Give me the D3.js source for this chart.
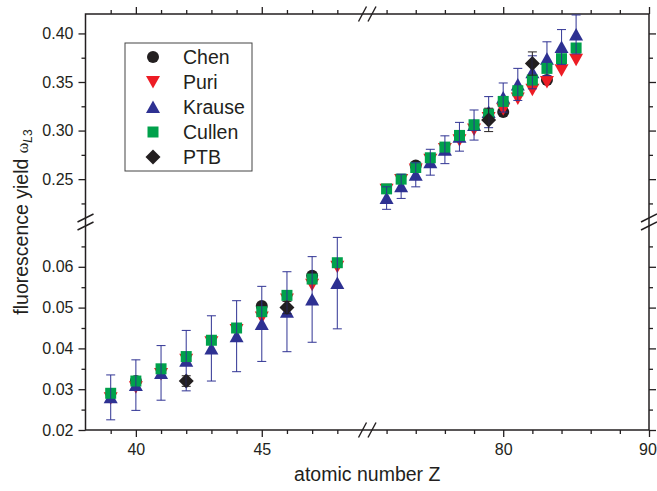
<!DOCTYPE html>
<html>
<head>
<meta charset="utf-8">
<script src="https://cdn.jsdelivr.net/npm/d3@7"></script>
<style>
  html, body { margin: 0; padding: 0; background: #fff; }
  svg { display: block; font-family: "Liberation Sans", Arial, sans-serif; }
</style>
</head>
<body>
<svg id="chart" width="657" height="491"></svg>
<script>
// atomic numbers of the two plotted ranges
const zLow  = [39, 40, 41, 42, 43, 44, 45, 46, 47, 48];
const zHigh = [72, 73, 74, 75, 76, 77, 78, 79, 80, 81, 82, 83, 84, 85];

// L3 fluorescence yields per data set
const puriY   = [0.0278, 0.0305, 0.0337, 0.0372, 0.0415, 0.0445, 0.0476, 0.052, 0.0556, 0.060,
                 0.239, 0.249, 0.260, 0.270, 0.281, 0.290, 0.301, 0.313, 0.322, 0.333, 0.342, 0.350, 0.362, 0.373];
const krauseY = [0.028, 0.031, 0.034, 0.037, 0.040, 0.043, 0.046, 0.049, 0.052, 0.056,
                 0.2305, 0.2426, 0.2545, 0.2674, 0.2803, 0.2936, 0.3057, 0.319, 0.334, 0.3475, 0.360, 0.374, 0.386, 0.399];
const krauseErr = [0.0055, 0.0062, 0.0067, 0.0074, 0.0080, 0.0087, 0.0092, 0.0098, 0.0105, 0.0112,
                   0.0116, 0.0125, 0.0124, 0.0133, 0.0143, 0.0148, 0.0155, 0.016, 0.015, 0.0165, 0.017, 0.0174, 0.018, 0.020];
const cullenY = [0.029, 0.032, 0.035, 0.038, 0.042, 0.045, 0.049, 0.053, 0.057, 0.061,
                 0.240, 0.250, 0.262, 0.272, 0.283, 0.295, 0.306, 0.317, 0.330, 0.341, 0.352, 0.364, 0.374, 0.385];
const chenZ = [40, 45, 47, 74, 80, 83];
const chenY = [0.032, 0.0504, 0.0578, 0.264, 0.319, 0.352];
const ptbZ   = [42, 46, 79, 82];
const ptbY   = [0.032, 0.050, 0.311, 0.369];
const ptbErr = [0.0013, 0.0015, 0.012, 0.012];

// axis ticks and labels
const xLowMajor = [40, 45];
const xLowMinor = [39, 41, 42, 43, 44, 46, 47, 48];
const xHighMajor = [80, 90];
const xHighMinor = [72, 74, 76, 78, 82, 84, 86, 88];
const yLowMajor = [0.02, 0.03, 0.04, 0.05, 0.06];
const yLowMinor = [0.025, 0.035, 0.045, 0.055, 0.065];
const yHighMajor = [0.25, 0.30, 0.35, 0.40];
const yHighMinor = [0.225, 0.275, 0.325, 0.375];

const legendNames = ["Chen", "Puri", "Krause", "Cullen", "PTB"];
const colors = { Chen: "#231f20", Puri: "#ed1c24", Krause: "#2e3192", Cullen: "#00a14b", PTB: "#231f20" };
const shapes = { Chen: "circle", Puri: "tri-down", Krause: "tri-up", Cullen: "square", PTB: "diamond" };

const plotLeft = 85.5, plotRight = 649, plotTop = 14, plotBottom = 430;
const gapX = 9.5, gapY = 8;
const segW = (plotRight - plotLeft - gapX) / 2;
const segH = (plotBottom - plotTop - gapY) / 2;

const xLow  = d3.scaleLinear().domain([38, 49]).range([plotLeft, plotLeft + segW]);
const xHigh = d3.scaleLinear().domain([71, 90]).range([plotRight - segW, plotRight]);
const yLow  = d3.scaleLinear().domain([0.02, 0.07]).range([plotBottom, plotBottom - segH]);
const yHigh = d3.scaleLinear().domain([0.21, 0.42]).range([plotTop + segH, plotTop]);

const px = z => z < 60 ? xLow(z) : xHigh(z);
const py = v => v < 0.15 ? yLow(v) : yHigh(v);

const svg = d3.select("#chart");
const ink = "#231f20";

// marker shapes
function shapePath(kind) {
  switch (kind) {
    case "circle":   return "M6,0A6,6 0 1,1 -6,0A6,6 0 1,1 6,0Z";
    case "square":   return "M-5.5,-5.5H5.5V5.5H-5.5Z";
    case "tri-up":   return "M0,-6.5L7,6L-7,6Z";
    case "tri-down": return "M0,6.5L7,-6L-7,-6Z";
    case "diamond":  return "M0,-7.5L7.5,0L0,7.5L-7.5,0Z";
  }
}

// axes
function tickAxis(gen, scale, values, size, pos, labels) {
  const a = gen(scale).tickValues(values).tickSizeInner(size).tickSizeOuter(0).tickPadding(4);
  if (labels) a.tickFormat(labels); else a.tickFormat("");
  const g = svg.append("g").attr("transform", pos).call(a);
  g.select(".domain").remove();
  g.selectAll(".tick line").attr("stroke", ink).attr("stroke-width", 1.3);
  g.selectAll(".tick text").attr("fill", ink).attr("font-size", 16)
    .attr("font-family", "Liberation Sans, Arial, sans-serif");
  return g;
}
const fmtY = d3.format(".2f");
const fmtX = d3.format("d");
const MAJ = 7, MIN = 4;

// bottom (outward) and top (inward)
for (const [sc, maj, min] of [[xLow, xLowMajor, xLowMinor], [xHigh, xHighMajor, xHighMinor]]) {
  const gb = tickAxis(d3.axisBottom, sc, maj, MAJ, `translate(0,${plotBottom})`, fmtX);
  gb.selectAll(".tick text").attr("dy", "0.9em")
    .attr("dx", d => d === 90 ? -1.5 : 0);
  tickAxis(d3.axisBottom, sc, min, MIN, `translate(0,${plotBottom})`, null);
  tickAxis(d3.axisBottom, sc, maj, -MAJ, `translate(0,${plotTop})`, null);
  tickAxis(d3.axisBottom, sc, min, -MIN, `translate(0,${plotTop})`, null);
}
// left (outward) and right (inward)
for (const [sc, maj, min] of [[yLow, yLowMajor, yLowMinor], [yHigh, yHighMajor, yHighMinor]]) {
  const gl = tickAxis(d3.axisLeft, sc, maj, MAJ, `translate(${plotLeft},0)`, fmtY);
  gl.selectAll(".tick text").attr("x", -12);
  tickAxis(d3.axisLeft, sc, min, MIN, `translate(${plotLeft},0)`, null);
  tickAxis(d3.axisLeft, sc, maj, -MAJ, `translate(${plotRight},0)`, null);
  tickAxis(d3.axisLeft, sc, min, -MIN, `translate(${plotRight},0)`, null);
}

// frame
svg.append("rect").attr("x", plotLeft).attr("y", plotTop)
  .attr("width", plotRight - plotLeft).attr("height", plotBottom - plotTop)
  .attr("fill", "none").attr("stroke", ink).attr("stroke-width", 1.5);

// break marks on the frame
const breakX = [xLow.range()[1], xHigh.range()[0]];
const breakY = [yHigh.range()[0], yLow.range()[1]];
const brk = svg.append("g").attr("stroke", ink).attr("stroke-width", 1.4);
for (const bx of breakX) {
  for (const by of [plotTop, plotBottom]) {
    brk.append("line").attr("x1", bx - 4).attr("y1", by + 7.5).attr("x2", bx + 4).attr("y2", by - 7.5);
  }
}
for (const by of breakY) {
  for (const bx of [plotLeft, plotRight]) {
    brk.append("line").attr("x1", bx - 8).attr("y1", by + 4).attr("x2", bx + 8).attr("y2", by - 4);
  }
}

// data
function rows(zs, ys, errs) { return zs.map((z, i) => ({ z, v: ys[i], e: errs ? errs[i] : 0 })); }
const zAll = zLow.concat(zHigh);
const series = [
  { name: "Chen",   data: rows(chenZ, chenY) },
  { name: "Puri",   data: rows(zAll, puriY) },
  { name: "Krause", data: rows(zAll, krauseY, krauseErr) },
  { name: "Cullen", data: rows(zAll, cullenY) },
  { name: "PTB",    data: rows(ptbZ, ptbY, ptbErr) },
];

const plot = svg.append("g");
for (const s of series) {
  plot.append("g").selectAll("path").data(s.data).join("path")
    .attr("transform", d => `translate(${px(d.z)},${py(d.v)})`)
    .attr("d", shapePath(shapes[s.name]))
    .attr("fill", colors[s.name]);
}

// error bars drawn over the markers
for (const s of series.filter(s => s.name === "Krause" || s.name === "PTB")) {
  const g = plot.append("g").attr("stroke", colors[s.name]).attr("stroke-width", 1.1)
    .attr("stroke-opacity", 0.9).attr("fill", "none");
  for (const d of s.data) {
    const x = px(d.z), y1 = py(d.v - d.e), y2 = py(d.v + d.e);
    g.append("line").attr("x1", x).attr("x2", x).attr("y1", y1).attr("y2", y2);
    g.append("line").attr("x1", x - 4.5).attr("x2", x + 4.5).attr("y1", y1).attr("y2", y1);
    g.append("line").attr("x1", x - 4.5).attr("x2", x + 4.5).attr("y1", y2).attr("y2", y2);
  }
}

// legend
const lg = svg.append("g").attr("transform", "translate(125,43)");
lg.append("rect").attr("width", 127).attr("height", 128)
  .attr("fill", "#fff").attr("stroke", "#444").attr("stroke-width", 1);
legendNames.forEach((n, i) => {
  const y = 14 + i * 25;
  lg.append("path").attr("transform", `translate(28,${y})`).attr("d", shapePath(shapes[n])).attr("fill", colors[n]);
  lg.append("text").attr("x", 58).attr("y", y + 7).attr("font-size", 19.5).attr("fill", ink).text(n);
});

// axis titles
svg.append("text").attr("x", (plotLeft + plotRight) / 2).attr("y", 481)
  .attr("text-anchor", "middle").attr("font-size", 19.5).attr("fill", ink).text("atomic number Z");

const yt = svg.append("text").attr("transform", `translate(28,${(plotTop + plotBottom) / 2}) rotate(-90)`)
  .attr("text-anchor", "middle").attr("font-size", 19.5).attr("fill", ink);
yt.append("tspan").text("fluorescence yield ");
yt.append("tspan").attr("font-family", "Liberation Serif, serif").attr("font-size", 16).text("ω");
yt.append("tspan").attr("font-size", 12).attr("dy", 4).attr("font-style", "italic").text("L");
yt.append("tspan").attr("font-size", 12).text("3");
</script>
</body>
</html>
